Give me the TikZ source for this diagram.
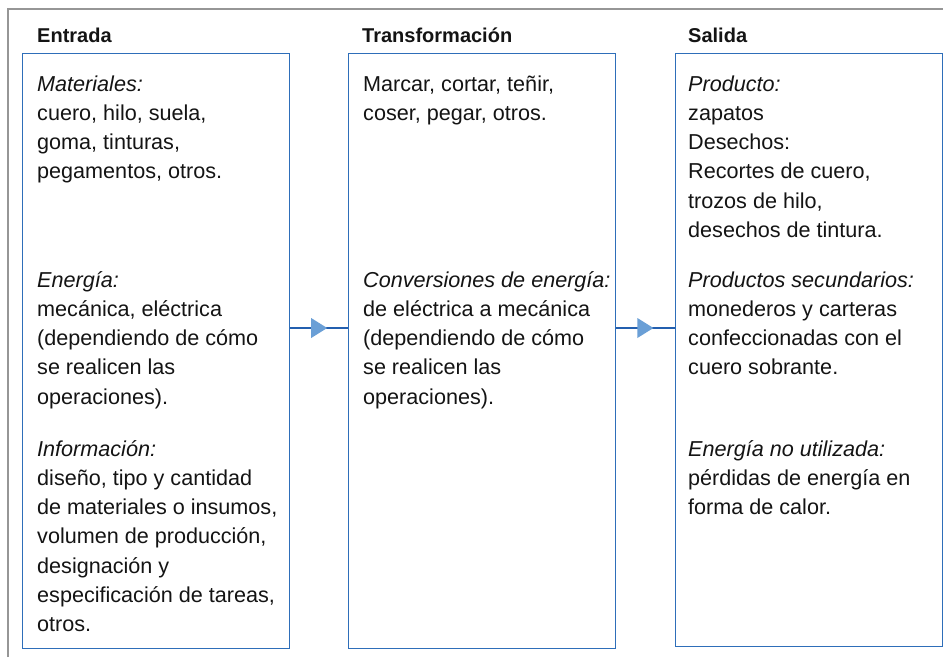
\documentclass[tikz,border=0pt]{standalone}
\usepackage{fontspec}
\setmainfont{Liberation Sans}
\usetikzlibrary{decorations.markings}
\definecolor{boxblue}{RGB}{46,110,185}
\definecolor{lineblue}{RGB}{35,95,175}
\definecolor{trifill}{RGB}{106,159,214}
\definecolor{framegray}{RGB}{150,150,150}
\definecolor{txtcol}{RGB}{20,20,20}
\newcommand{\mytxt}[1]{\parbox[t]{270pt}{\raggedright #1}}
\tikzset{
  panel/.style={draw=boxblue, line width=1.3pt, fill=white, inner sep=0pt, anchor=north west},
  head/.style={anchor=base west, inner sep=0pt, text=txtcol, font=\fontsize{20}{24}\selectfont\bfseries},
  body/.style={anchor=base west, inner sep=0pt, text=txtcol, font=\fontsize{21.6}{29.3}\selectfont},
  conn/.style={draw=lineblue, line width=1.2pt,
    postaction={decorate, decoration={markings,
      mark=at position 0.5 with {\fill[trifill] (-8pt,-10pt) -- (8pt,0pt) -- (-8pt,10pt) -- cycle;}}}},
  framestyle/.style={draw=framegray, line width=1.5pt}
}
\begin{document}
\begin{tikzpicture}[x=1pt,y=-1pt]
\useasboundingbox (0,0) rectangle (943,657);
\fill[white] (0,0) rectangle (943,657);
\draw[framestyle] (8,657) -- (8,9) -- (943,9);

% panels
\node[panel, minimum width=267pt, minimum height=595pt] (in) at (22,53) {};
\node[panel, minimum width=267pt, minimum height=595pt] (tr) at (348,53) {};
\node[panel, minimum width=267pt, minimum height=593pt] (out) at (674.5,53) {};

% headings
\node[head] (h1) at (37,42) {Entrada};
\node[head] (h2) at (362,42) {Transformación};
\node[head] (h3) at (688,42) {Salida};

% Entrada
\node[body] (e1) at (37,91) {\mytxt{\textit{Materiales:}\\cuero, hilo, suela,\\goma, tinturas,\\pegamentos, otros.}};
\node[body] (e2) at (37,287) {\mytxt{\textit{Energía:}\\mecánica, eléctrica\\(dependiendo de cómo\\se realicen las\\operaciones).}};
\node[body] (e3) at (37,456) {\mytxt{\textit{Información:}\\diseño, tipo y cantidad\\de materiales o insumos,\\volumen de producción,\\designación y\\especificación de tareas,\\otros.}};

% Transformacion
\node[body] (t1) at (363,91) {\mytxt{Marcar, cortar, teñir,\\coser, pegar, otros.}};
\node[body] (t2) at (363,287) {\mytxt{\textit{Conversiones de energía:}\\de eléctrica a mecánica\\(dependiendo de cómo\\se realicen las\\operaciones).}};

% Salida
\node[body] (s1) at (688,91) {\mytxt{\textit{Producto:}\\zapatos\\Desechos:\\Recortes de cuero,\\trozos de hilo,\\desechos de tintura.}};
\node[body] (s2) at (688,287) {\mytxt{\textit{Productos secundarios:}\\monederos y carteras\\confeccionadas con el\\cuero sobrante.}};
\node[body] (s3) at (688,456) {\mytxt{\textit{Energía no utilizada:}\\pérdidas de energía en\\forma de calor.}};

% connectors
\coordinate (ay) at (0,328);
\draw[conn] (in.east |- ay) -- (tr.west |- ay);
\draw[conn] (tr.east |- ay) -- (out.west |- ay);
\end{tikzpicture}
\end{document}
